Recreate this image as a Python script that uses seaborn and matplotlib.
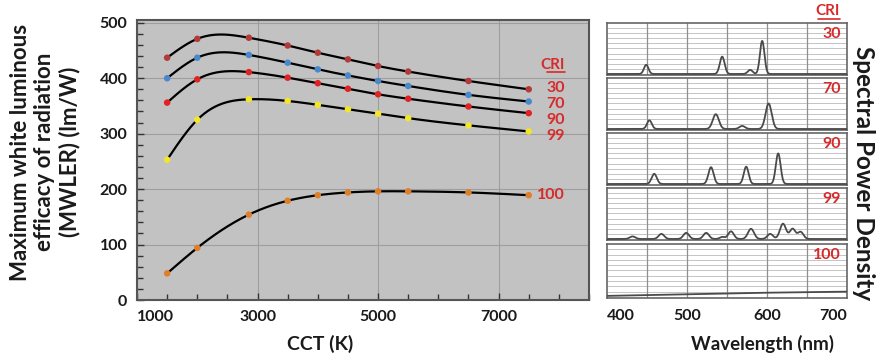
import numpy as np
import pandas as pd
import matplotlib
matplotlib.use("Agg")
import matplotlib.pyplot as plt
from matplotlib.ticker import MultipleLocator, FixedLocator
import seaborn as sns

# ---------------- data ----------------
cct = [1500, 2000, 2856, 3500, 4000, 4500, 5000, 5500, 6500, 7500]
mwler_cri30 = [437, 471, 473, 459, 446, 434, 422, 412, 395, 380]
mwler_cri70 = [400, 437, 442, 428, 416, 405, 395, 386, 370, 358]
mwler_cri90 = [356, 398, 411, 401, 391, 381, 371, 363, 349, 337]
mwler_cri99 = [253, 325, 362, 359, 352, 344, 336, 328, 315, 304]
mwler_cri100 = [48, 94, 154, 179, 189, 194, 196, 196, 194, 189]
cri_labels = ["30", "70", "90", "99", "100"]
marker_colors = ["#b23a3a", "#4a88cc", "#e02222", "#f2e628", "#e07f2a"]

x_ticks = [1000, 3000, 5000, 7000]
y_ticks = [0, 100, 200, 300, 400, 500]
wl_ticks = [400, 500, 600, 700]

# spectral peaks (centre nm, relative height, width nm)
spd30_centers = [449, 544, 579, 594]
spd30_heights = [0.18, 0.34, 0.08, 0.65]
spd30_widths = [2.8, 3.0, 3.0, 2.8]
spd70_centers = [453, 536, 569, 602]
spd70_heights = [0.17, 0.29, 0.06, 0.50]
spd70_widths = [3.0, 3.8, 3.5, 3.8]
spd90_centers = [459, 530, 574, 614]
spd90_heights = [0.20, 0.33, 0.34, 0.60]
spd90_widths = [3.2, 3.2, 3.0, 3.0]
spd99_centers = [432, 468, 499, 524, 544, 555, 580, 604, 620, 632, 642]
spd99_heights = [0.05, 0.10, 0.12, 0.12, 0.04, 0.15, 0.20, 0.10, 0.30, 0.20, 0.14]
spd99_widths = [3.5, 3.5, 3.5, 3.5, 3.0, 3.5, 3.8, 3.5, 3.8, 3.5, 3.5]
spd100_wl = [400, 500, 600, 700]
spd100_values = [0.02, 0.05, 0.08, 0.10]

# ---------------- helpers ----------------
def natural_spline(x, y, xs):
    x = np.asarray(x, float); y = np.asarray(y, float)
    n = len(x); h = np.diff(x)
    A = np.zeros((n, n)); b = np.zeros(n)
    A[0, 0] = 1; A[-1, -1] = 1
    for i in range(1, n - 1):
        A[i, i - 1] = h[i - 1]; A[i, i] = 2 * (h[i - 1] + h[i]); A[i, i + 1] = h[i]
        b[i] = 6 * ((y[i + 1] - y[i]) / h[i] - (y[i] - y[i - 1]) / h[i - 1])
    M = np.linalg.solve(A, b)
    idx = np.clip(np.searchsorted(x, xs) - 1, 0, n - 2)
    x0, x1 = x[idx], x[idx + 1]; hh = x1 - x0
    a = (x1 - xs) / hh; c = (xs - x0) / hh
    return (a * y[idx] + c * y[idx + 1]
            + ((a ** 3 - a) * M[idx] + (c ** 3 - c) * M[idx + 1]) * hh ** 2 / 6)

def peaks(wl, centers, heights, widths):
    out = np.zeros_like(wl)
    for c, hgt, w in zip(centers, heights, widths):
        out += hgt * np.exp(-0.5 * ((wl - c) / w) ** 2)
    return out

# ---------------- style ----------------
sns.set_theme(style="white")
plt.rcParams["font.family"] = ["Lato", "DejaVu Sans"]
plt.rcParams["font.weight"] = "bold"
RED = "#d62b2b"
TXT = "#1a1a1a"

fig = plt.figure(figsize=(8.8, 3.61), dpi=100)

# ---------------- main panel ----------------
ax = fig.add_axes([137 / 880, 1 - 300 / 361, (589 - 137) / 880, (300 - 20) / 361])
ax.set_facecolor("#c2c2c2")
series = [mwler_cri30, mwler_cri70, mwler_cri90, mwler_cri99, mwler_cri100]
xs = np.linspace(cct[0], cct[-1], 400)
for vals, col, lab in zip(series, marker_colors, cri_labels):
    curve = pd.DataFrame({"cct": xs, "v": natural_spline(cct, vals, xs)})
    sns.lineplot(data=curve, x="cct", y="v", ax=ax, color="black", lw=1.6, sort=False, zorder=3)
    pts = pd.DataFrame({"cct": cct, "v": vals})
    sns.scatterplot(data=pts, x="cct", y="v", ax=ax, color=col, s=22, edgecolor="none", zorder=4)

ax.set_xlim(1000, 8500)
ax.set_ylim(0, 505)
ax.xaxis.set_major_locator(FixedLocator(x_ticks))
ax.xaxis.set_minor_locator(MultipleLocator(500))
ax.yaxis.set_major_locator(FixedLocator(y_ticks))
ax.yaxis.set_minor_locator(MultipleLocator(20))
ax.tick_params(which="both", direction="in", bottom=True, left=True, color="#333333")
ax.tick_params(which="major", length=5, width=1, labelsize=11.5, labelcolor=TXT, pad=7)
ax.tick_params(which="minor", length=4, width=1)
ax.set_xticklabels([str(t) for t in x_ticks], fontweight="bold")
ax.set_yticklabels([str(t) for t in y_ticks], fontweight="bold")
ax.get_xticklabels()[0].set_ha("left")
ax.grid(True, which="major", color="#9e9e9e", lw=0.8)
for s in ax.spines.values():
    s.set_color("#555555"); s.set_linewidth(1.5)
ax.set_xlabel(""); ax.set_ylabel("")

ax.text(8100, 424, "CRI", color=RED, fontsize=11, fontweight="bold", ha="right", va="center")
ax.plot([7800, 8100], [412, 412], color=RED, lw=1.2)
for lab, yy in zip(cri_labels, [383, 354, 325, 295, 189]):
    ax.text(8100, yy, lab, color=RED, fontsize=11.5, fontweight="bold", ha="right", va="center")

fig.text(45 / 880, 1 - 152 / 361, "Maximum white luminous\nefficacy of radiation\n(MWLER) (lm/W)",
         rotation=90, ha="center", va="center", multialignment="center",
         fontsize=16, fontweight="bold", color=TXT, linespacing=1.18)
fig.text(320 / 880, 1 - 344 / 361, "CCT (K)", ha="center", va="center",
         fontsize=14, fontweight="bold", color=TXT)

# ---------------- spectral panels ----------------
wl = np.arange(400, 700.5, 0.5)
spectra = [
    peaks(wl, spd30_centers, spd30_heights, spd30_widths),
    peaks(wl, spd70_centers, spd70_heights, spd70_widths),
    peaks(wl, spd90_centers, spd90_heights, spd90_widths),
    peaks(wl, spd99_centers, spd99_heights, spd99_widths),
    None,
]
tops = [23, 78, 133, 188, 244]
bottoms = [75, 130, 185, 240, 298]
for i, (spec, lab) in enumerate(zip(spectra, cri_labels)):
    t, b = tops[i], bottoms[i]
    a2 = fig.add_axes([607 / 880, 1 - b / 361, (847 - 607) / 880, (b - t) / 361])
    a2.set_facecolor("white")
    for yv in np.arange(0.1, 1.0, 0.1):
        a2.axhline(yv, color="#c4c4c4", lw=0.7, zorder=1)
    for xv in [450, 500, 550, 600, 650]:
        a2.axvline(xv, color="#8f8f8f", lw=0.9, zorder=1)
    if spec is not None:
        d = pd.DataFrame({"wl": wl, "p": spec})
    else:
        d = pd.DataFrame({"wl": spd100_wl, "p": spd100_values})
    sns.lineplot(data=d, x="wl", y="p", ax=a2, color="#4a4a4a", lw=1.3, zorder=3)
    a2.set_xlim(400, 700)
    a2.set_ylim(-0.02, 1.0)
    a2.set_yticks([])
    a2.set_xlabel(""); a2.set_ylabel("")
    for s in a2.spines.values():
        s.set_color("#666666"); s.set_linewidth(1.2)
    a2.text(0.975, 0.79, lab, transform=a2.transAxes, color=RED, fontsize=11.5,
            fontweight="bold", ha="right", va="center")
    if i < 4:
        a2.set_xticks([])
    else:
        a2.set_xticks(wl_ticks)
        a2.set_xticklabels([str(t) for t in wl_ticks], fontweight="bold")
        a2.tick_params(axis="x", length=0, labelsize=11.5, labelcolor=TXT, pad=8)
        lbls = a2.get_xticklabels()
        lbls[0].set_ha("left"); lbls[-1].set_ha("right")

fig.text(840 / 880, 1 - 11 / 361, "CRI", color=RED, fontsize=11, fontweight="bold",
         ha="right", va="center")
fig.add_artist(plt.Line2D([818 / 880, 840 / 880], [1 - 19 / 361, 1 - 19 / 361],
                          color=RED, lw=1.2, transform=fig.transFigure))
fig.text(863 / 880, 1 - 173 / 361, "Spectral Power Density", rotation=270, ha="center", va="center",
         fontsize=17.5, fontweight="bold", color=TXT)
fig.text(762 / 880, 1 - 344 / 361, "Wavelength (nm)", ha="center", va="center",
         fontsize=13.5, fontweight="bold", color=TXT)

fig.savefig("out.png", dpi=100)
